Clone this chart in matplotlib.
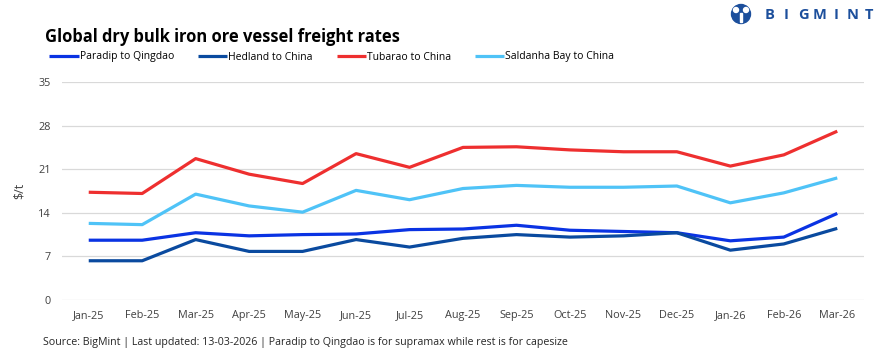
import matplotlib.pyplot as plt
from matplotlib.patches import Ellipse, Rectangle

months = ['Jan-25', 'Feb-25', 'Mar-25', 'Apr-25', 'May-25', 'Jun-25', 'Jul-25', 'Aug-25',
          'Sep-25', 'Oct-25', 'Nov-25', 'Dec-25', 'Jan-26', 'Feb-26', 'Mar-26']
paradip = [9.6, 9.6, 10.8, 10.3, 10.5, 10.6, 11.3, 11.4, 12.0, 11.2, 11.0, 10.8, 9.5, 10.1, 13.9]
hedland = [6.3, 6.3, 9.7, 7.8, 7.8, 9.7, 8.5, 9.9, 10.5, 10.1, 10.3, 10.8, 8.0, 9.0, 11.5]
tubarao = [17.3, 17.1, 22.7, 20.2, 18.7, 23.5, 21.3, 24.5, 24.6, 24.1, 23.8, 23.8, 21.5, 23.3, 27.1]
saldanha = [12.3, 12.1, 17.0, 15.1, 14.1, 17.6, 16.1, 17.9, 18.4, 18.1, 18.1, 18.3, 15.6, 17.2, 19.6]

series = [
    ('Paradip to Qingdao', paradip, '#0a33e3'),
    ('Hedland to China', hedland, '#0a4a9f'),
    ('Tubarao to China', tubarao, '#ee2f2f'),
    ('Saldanha Bay to China', saldanha, '#4fc3f7'),
]

plt.rcParams['font.family'] = ['Open Sans', 'DejaVu Sans']

W, H = 883, 360
fig = plt.figure(figsize=(W / 100, H / 100), dpi=100)
ax = fig.add_axes([62 / W, 60 / H, 802 / W, 218 / H])

x = range(len(months))
for name, vals, col in series:
    ax.plot(x, vals, color=col, lw=2.3, label=name, solid_capstyle='butt')

ax.set_xlim(-0.5, len(months) - 0.5)
ax.set_ylim(0, 35)
ax.set_yticks(range(0, 36, 7))
ax.set_xticks(list(x))
ax.set_xticklabels(months)
ax.tick_params(length=0, labelsize=7.8, colors='#404040')
ax.tick_params(axis='y', pad=8)
ax.tick_params(axis='x', pad=7)
ax.grid(axis='y', color='#d9d9d9', lw=0.9)
ax.set_axisbelow(True)
for s in ax.spines.values():
    s.set_visible(False)
ax.set_ylabel('$/t', fontsize=9, color='#404040', labelpad=9)

fig.text(45 / W, 1 - 37 / H, 'Global dry bulk iron ore vessel freight rates',
         fontsize=11.9, fontweight='bold', color='black', va='center')

fig.legend(loc='center left', bbox_to_anchor=(40 / W, 1 - 57 / H), ncol=4, frameon=False,
           fontsize=7.5, handlelength=2.8, handletextpad=0.1, columnspacing=2.3)

fig.text(43 / W, 1 - 343 / H,
         'Source: BigMint | Last updated: 13-03-2026 | Paradip to Qingdao is for supramax while rest is for capesize',
         fontsize=7.7, color='#262626', va='center')

# logo
logo_col = '#1c4f9c'
fig.patches.append(Ellipse((741 / W, 1 - 14 / H), 19 / W, 19 / H,
                           transform=fig.transFigure, color=logo_col))
for cx in (736, 746):
    fig.patches.append(Ellipse((cx / W, 1 - 10 / H), 5 / W, 5 / H,
                               transform=fig.transFigure, color='white'))
fig.patches.append(Rectangle((740 / W, 1 - 22 / H), 2 / W, 9 / H,
                             transform=fig.transFigure, color='white'))
for i, ch in enumerate('BIGMINT'):
    fig.text((770 + i * 16.5) / W, 1 - 15 / H, ch, fontsize=10.5, fontweight='bold',
             color=logo_col, va='center', ha='center')

fig.savefig('out.png', dpi=100)
